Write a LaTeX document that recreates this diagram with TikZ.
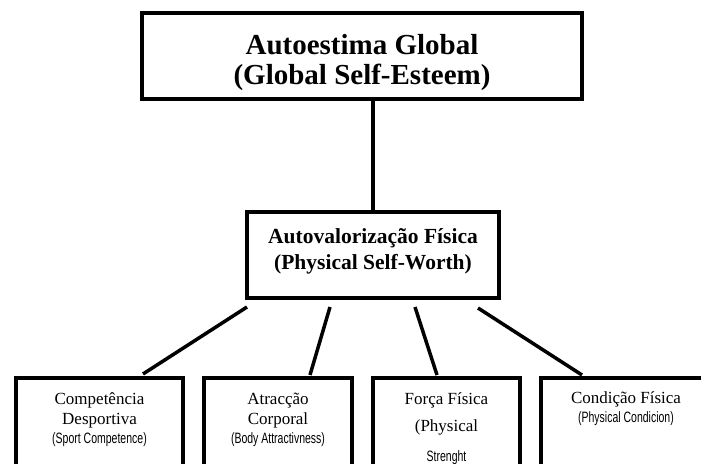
\documentclass[tikz,border=0pt]{standalone}
\usepackage{fontspec}
\setmainfont{Liberation Serif}
\newfontfamily\condfont[FakeStretch=0.7]{Liberation Sans}
\usepackage{tikz}

\begin{document}
\begin{tikzpicture}[x=1pt, y=-1pt, every node/.style={inner sep=0pt, outer sep=0pt}, box/.style={rectangle, draw=black, line width=4pt}, link/.style={draw=black, line width=3.5pt}, lbl/.style={anchor=base, font=\fontsize{17}{20}\selectfont}, eng/.style={anchor=base, font=\condfont\fontsize{15}{17}\selectfont}]
				\useasboundingbox (0,0) rectangle (701,463);
				\clip (0,0) rectangle (701,463);
				
				\node[box, minimum width=440pt, minimum height=86pt] (gse) at (362,56){};
				\node[box, minimum width=252pt, minimum height=86pt] (psw) at (373,255){};
				\node[box, minimum width=167pt, minimum height=122pt] (sc) at (99.5,439){};
				\node[box, minimum width=148pt, minimum height=122pt] (ba) at (278,439){};
				\node[box, minimum width=147pt, minimum height=122pt] (fs) at (446.5,439){};
				\node[box, minimum width=170pt, minimum height=122pt] (cf) at (626,439){};
				
				\coordinate (sc0) at (247,307);
				\coordinate (sc9) at (143,374);
				\coordinate (ba0) at (330,307);
				\coordinate (ba9) at (310,375);
				\coordinate (fs0) at (415,307);
				\coordinate (fs9) at (437,375);
				\coordinate (cf0) at (478,308);
				\coordinate (cf9) at (582,375);
				
				\path[link] (psw.north) -- (psw.north |- gse.south);
				\path[link] (sc0) -- (sc9);
				\path[link] (ba0) -- (ba9);
				\path[link] (fs0) -- (fs9);
				\path[link] (cf0) -- (cf9);
				
				\node[anchor=base, font=\bfseries\fontsize{29}{31}\selectfont] (gse1) at (362,54){Autoestima Global};
				\node[anchor=base, font=\bfseries\fontsize{29}{31}\selectfont] (gse2) at (362,84){(Global Self-Esteem)};
				\node[anchor=base, font=\bfseries\fontsize{21.5}{24}\selectfont] (psw1) at (373,243){Autovalorização Física};
				\node[anchor=base, font=\bfseries\fontsize{21.5}{24}\selectfont] (psw2) at (373,269){(Physical Self-Worth)};
				
				\node[lbl] (sc1) at (99.5,404){Competência};
				\node[lbl] (sc2) at (99.5,424){Desportiva};
				\node[eng] (sc3) at (99.5,443){(Sport Competence)};
				\node[lbl] (ba1) at (278,404){Atracção};
				\node[lbl] (ba2) at (278,424){Corporal};
				\node[eng] (ba3) at (278,443){(Body Attractivness)};
				\node[lbl] (fs1) at (446.5,404){Força Física};
				\node[lbl] (fs2) at (446.5,431){(Physical};
				\node[eng] (fs3) at (446.5,461){Strenght};
				\node[lbl] (cf1) at (626,403){Condição Física};
				\node[eng] (cf2) at (626,422){(Physical Condicion)};
\end{tikzpicture}
\end{document}
